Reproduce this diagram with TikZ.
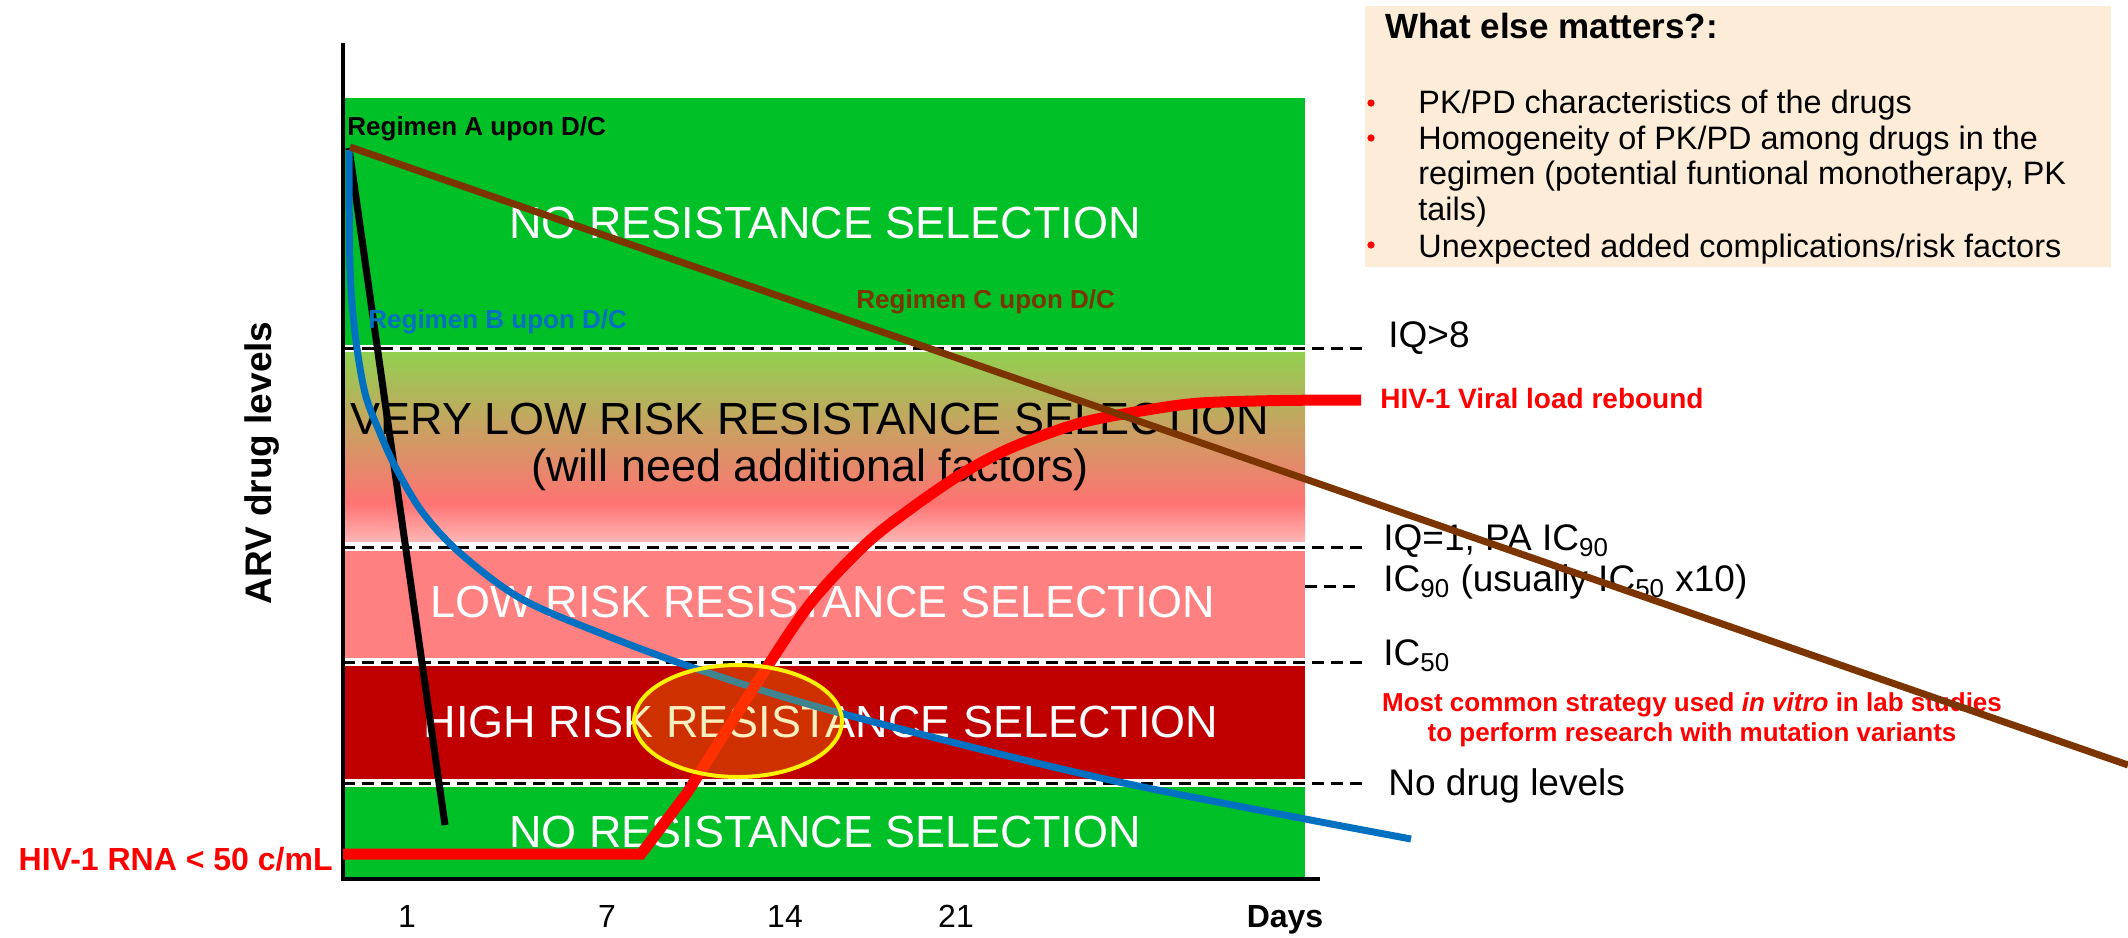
\documentclass[tikz,border=0pt]{standalone}
\usepackage{fontspec}
\setmainfont{Liberation Sans}
\usepackage{xcolor}
\usepackage{tikz}
\usetikzlibrary{positioning}
\definecolor{bandgreen}{RGB}{0,192,40}
\definecolor{bandpink}{RGB}{255,128,128}
\definecolor{banddark}{RGB}{192,0,0}
\definecolor{regB}{RGB}{0,112,192}
\definecolor{regC}{RGB}{124,52,0}
\definecolor{peach}{RGB}{253,236,216}
\definecolor{hilite}{RGB}{255,192,0}
\pgfdeclareverticalshading{verylow}{100bp}{rgb(0bp)=(1,0.71,0.71); rgb(25bp)=(1,0.71,0.71); rgb(35bp)=(1,0.45,0.45); rgb(75bp)=(0.573,0.816,0.314); rgb(100bp)=(0.573,0.816,0.314)}

\begin{document}
\begin{tikzpicture}[x=0.5pt, y=-0.5pt,
    bandlbl/.style={font={\fontsize{22.5}{23.5}\selectfont}, text=white, inner sep=0pt},
    lvllbl/.style={font={\fontsize{18.5}{22}\selectfont}, anchor=base west, inner sep=0pt},
    reglbl/.style={font={\bfseries\fontsize{13}{15}\selectfont}, anchor=base west, inner sep=0pt},
    redlbl/.style={font={\bfseries\fontsize{14}{16}\selectfont}, text=red, inner sep=0pt},
    levelline/.style={black, line width=1.5pt, dash pattern=on 6pt off 3.5pt},
    drugline/.style={line width=3.5pt},
    ticklbl/.style={font={\fontsize{16}{18}\selectfont}, anchor=base, inner sep=0pt},
    matterlbl/.style={font={\fontsize{16.2}{18}\selectfont}, anchor=base west, inner sep=0pt},
    reddot/.style={circle, fill=red, inner sep=0pt, minimum size=3.6pt}]
    \useasboundingbox (0,0) rectangle (2128,937);

    % Risk bands
    \fill[bandgreen] (345,98) rectangle (1305,345);
    \shade[shading=verylow] (345,352) rectangle (1305,541);
    \fill[bandpink] (345,551) rectangle (1305,658);
    \fill[banddark] (345,666) rectangle (1305,779);
    \fill[bandgreen] (345,787) rectangle (1305,877);

    % Band labels
    \node[bandlbl, anchor=base] (noresTop) at (825,238) {NO RESISTANCE SELECTION};
    \node[bandlbl, text=black, align=center] (vlowLbl) at (810,447) {VERY LOW RISK RESISTANCE SELECTION\\(will need additional factors)};
    \node[bandlbl, anchor=base] (lowLbl) at (823,617) {LOW RISK RESISTANCE SELECTION};
    \node[bandlbl, anchor=base] (highLbl) at (821,737) {HIGH RISK RESISTANCE SELECTION};
    \node[bandlbl, anchor=base] (noresBot) at (825,847) {NO RESISTANCE SELECTION};

    % Level lines
    \foreach \ly in {348,547,662,783} {
        \draw[levelline] (343,\ly) -- (1362,\ly);
    }
    \draw[levelline] (1305,586) -- (1362,586);

    % Axes
    \draw[line width=1.8pt] (343,43) -- (343,879) -- (1320,879);
    \node[font={\bfseries\fontsize{18.5}{20}\selectfont}, rotate=90, inner sep=0pt] (ylbl) at (262,463) {ARV drug levels};
    \node[ticklbl] (t1) at (407,927) {1};
    \node[ticklbl] (t7) at (607,927) {7};
    \node[ticklbl] (t14) at (785,927) {14};
    \node[ticklbl] (t21) at (956,927) {21};
    \node[ticklbl, font={\bfseries\fontsize{16}{18}\selectfont}] (days) at (1285,927) {Days};

    % Level labels
    \node[lvllbl] (iq8) at (1388,347) {IQ>8};
    \node[lvllbl] (iq1) at (1383,550) {IQ=1, PA IC\textsubscript{90}};
    \node[lvllbl] (ic90) at (1383,591) {IC\textsubscript{90} (usually IC\textsubscript{50} x10)};
    \node[lvllbl] (ic50) at (1383,665) {IC\textsubscript{50}};
    \node[lvllbl] (nodrug) at (1388,795) {No drug levels};

    % Regimen A and B
    \draw[drugline, black] (349,148) -- (445,825);
    \draw[drugline, regB] plot[smooth, tension=0.55] coordinates {(349,150) (350,267) (355,333) (365,393) (380,433) (397,470) (423,513) (460,553) (520,598) (600,633) (700,670) (840,713) (1110,780) (1411,839)};
    \node[reglbl] (regAlbl) at (347,135) {Regimen A upon D/C};
    \node[reglbl, text=regB] (regBlbl) at (368,328) {Regimen B upon D/C};
    \node[reglbl, text=regC] (regClbl) at (856,308) {Regimen C upon D/C};

    % Viral load
    \draw[line width=5.5pt, red] (343,854) -- (641,854) -- plot[smooth, tension=0.5] coordinates {(687,793) (767,667) (813,600) (867,543) (913,507) (963,473) (1013,447) (1080,423) (1147,410) (1200,403) (1280,400.5) (1361,400)};
    \node[redlbl, anchor=base west] (rebound) at (1380,408) {HIV-1 Viral load rebound};
    \node[redlbl, font={\bfseries\fontsize{16}{18}\selectfont}, anchor=base east] (rnalow) at (333,870) {HIV-1 RNA < 50 c/mL};
    \node[redlbl, font={\bfseries\fontsize{13}{15}\selectfont}, align=center] (invitro) at (1692,720) {Most common strategy used \textit{in vitro} in lab studies\\to perform research with mutation variants};

    % Regimen C
    \draw[drugline, regC] (350,147) -- (2128,765);

    % Highlight
    \draw[yellow, line width=2pt, fill=hilite, fill opacity=0.25] (738,721) ellipse (104 and 56);

    % What else matters box
    \fill[peach] (1365,6) rectangle (2111,267);
    \node[font={\bfseries\fontsize{17.5}{20}\selectfont}, anchor=base west, inner sep=0pt] (matters) at (1385,38) {What else matters?:};
    \node[reddot] (dot1) at (1371,103) {};
    \node[reddot] (dot2) at (1371,138) {};
    \node[reddot] (dot3) at (1371,245) {};
    \node[matterlbl] (pt1) at (1418,113) {PK/PD characteristics of the drugs};
    \node[matterlbl] (pt2a) at (1418,149) {Homogeneity of PK/PD among drugs in the};
    \node[matterlbl] (pt2b) at (1418,184) {regimen (potential funtional monotherapy, PK};
    \node[matterlbl] (pt2c) at (1418,220) {tails)};
    \node[matterlbl] (pt3) at (1418,257) {Unexpected added complications/risk factors};
\end{tikzpicture}
\end{document}
